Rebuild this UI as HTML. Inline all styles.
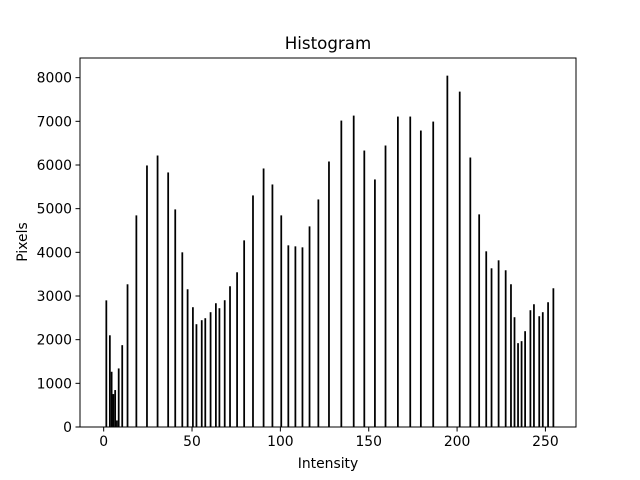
<!DOCTYPE html>
<html><head><meta charset="utf-8"><style>
html,body{margin:0;padding:0;background:#fff;}
svg{display:block;font-family:"DejaVu Sans","Liberation Sans",sans-serif;}
</style></head><body>
<svg id="chart" width="640" height="480" viewBox="0 0 640 480" xmlns="http://www.w3.org/2000/svg">
<rect width="640" height="480" fill="#fff"/>
<g id="bars"></g>
<g id="axes"></g>
<text x="328" y="49" font-size="16.7" text-anchor="middle">Histogram</text>
<text x="328" y="468" font-size="13.9" text-anchor="middle">Intensity</text>
<text transform="translate(27,242) rotate(-90)" font-size="13.9" text-anchor="middle">Pixels</text>
</svg>
<script>
const intensities = [1,3,4,5,6,7,8,10,13,18,24,30,36,40,44,47,50,52,55,57,60,63,65,68,71,75,79,84,90,95,100,104,108,112,116,121,127,134,141,147,153,159,166,173,179,186,194,201,207,212,216,219,223,227,230,232,234,236,238,241,243,246,248,251,254];
const pixelCounts = [2900,2100,1265,754,846,150,1341,1874,3268,4846,5989,6217,5829,4983,4000,3154,2743,2354,2446,2491,2629,2834,2720,2903,3223,3543,4274,5303,5920,5554,4846,4160,4137,4114,4594,5211,6080,7017,7131,6331,5669,6446,7109,7109,6789,6994,8046,7680,6171,4869,4023,3634,3817,3589,3269,2514,1920,1966,2194,2674,2811,2537,2629,2857,3177];
const xTicks = [0,50,100,150,200,250];
const yTicks = [0,1000,2000,3000,4000,5000,6000,7000,8000];

const L=80,R=576,T=58,B=427;
const xMin=-13.4,xMax=267.3,yMax=8450;
const X=v=>L+(v-xMin)/(xMax-xMin)*(R-L);
const Y=v=>B-v/yMax*(B-T);
const NS="http://www.w3.org/2000/svg";
const bars=document.getElementById('bars');
intensities.forEach((v,i)=>{
  const r=document.createElementNS(NS,'rect');
  r.setAttribute('x',X(v));
  r.setAttribute('width',X(v+0.996)-X(v));
  r.setAttribute('y',Y(pixelCounts[i]));
  r.setAttribute('height',B-Y(pixelCounts[i]));
  r.setAttribute('fill','#000');
  
  
  bars.appendChild(r);
});
const ax=document.getElementById('axes');
const frame=document.createElementNS(NS,'rect');
frame.setAttribute('x',L);frame.setAttribute('y',T);
frame.setAttribute('width',R-L);frame.setAttribute('height',B-T);
frame.setAttribute('fill','none');frame.setAttribute('stroke','#000');frame.setAttribute('stroke-width','1');


ax.appendChild(frame);
xTicks.forEach(t=>{
  const l=document.createElementNS(NS,'line');
  l.setAttribute('x1',X(t));l.setAttribute('x2',X(t));l.setAttribute('y1',B);l.setAttribute('y2',B+4.5);
  l.setAttribute('stroke','#000');
  
  
  ax.appendChild(l);
  const tx=document.createElementNS(NS,'text');
  tx.setAttribute('x',X(t));tx.setAttribute('y',B+19);tx.setAttribute('font-size','13.9');tx.setAttribute('text-anchor','middle');
  tx.textContent=t;
  
  
  ax.appendChild(tx);
});
yTicks.forEach(t=>{
  const l=document.createElementNS(NS,'line');
  l.setAttribute('x1',L-4.5);l.setAttribute('x2',L);l.setAttribute('y1',Y(t));l.setAttribute('y2',Y(t));
  l.setAttribute('stroke','#000');
  
  
  ax.appendChild(l);
  const tx=document.createElementNS(NS,'text');
  tx.setAttribute('x',L-8);tx.setAttribute('y',Y(t)+5);tx.setAttribute('font-size','13.9');tx.setAttribute('text-anchor','end');
  tx.textContent=t;
  
  
  ax.appendChild(tx);
});
</script>
</body></html>
